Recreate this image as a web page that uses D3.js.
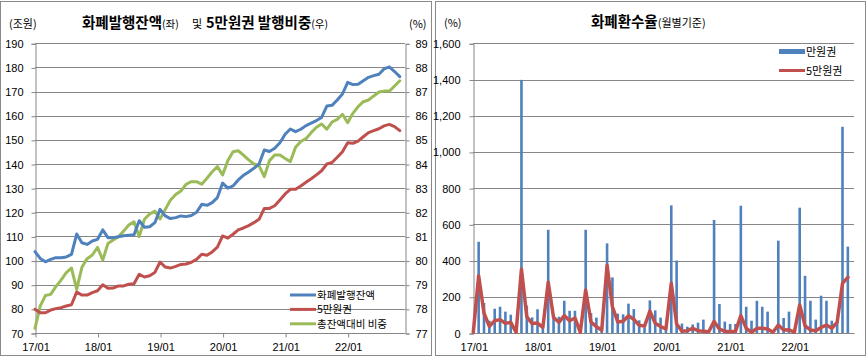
<!DOCTYPE html>
<html><head><meta charset="utf-8">
<script src="https://cdn.jsdelivr.net/npm/d3@7"></script>
<style>
html,body{margin:0;padding:0;background:#fff;}
svg{display:block;font-family:"Noto Sans CJK KR","Noto Sans",sans-serif;}
</style></head>
<body>
<svg id="chart" width="868" height="358"></svg>
<script>
// ---------- DATA ----------
const years = ["17","18","19","20","21","22"];
const months = years.flatMap(y => ["01","02","03","04","05","06","07","08","09","10","11","12"].map(m => y + "/" + m));
const xTickLabels = ["17/01","18/01","19/01","20/01","21/01","22/01"];

// 화폐발행잔액 (조원, left axis)
const issuance = [103.7,100.9,99.5,100.5,101.2,101.2,101.5,102.6,111.0,107.4,106.7,108.1,
  108.8,112.7,109.5,109.5,109.9,110.3,110.5,110.7,116.5,113.8,114.0,115.7,
  121.2,118.5,117.4,117.8,118.5,118.2,118.7,120.0,123.3,122.9,124.0,126.1,
  132.1,130.0,130.9,133.4,135.3,136.7,138.2,140.0,145.8,145.2,146.5,148.8,
  152.3,154.5,153.4,154.4,155.9,156.9,158.0,159.3,164.0,164.3,166.5,169.0,
  173.8,172.9,173.0,174.5,175.9,176.6,177.2,179.4,180.2,178.3,176.2];
// 5만원권 (조원, left axis)
const note50k = [79.8,78.4,78.4,79.5,80.1,80.5,81.2,81.7,87.0,85.7,85.7,86.7,
  87.5,90.0,88.5,88.6,89.5,89.5,90.2,90.4,94.3,93.2,93.7,95.1,
  99.4,97.3,96.9,97.6,98.4,98.6,99.3,100.5,102.6,102.2,103.6,105.6,
  110.2,109.3,110.9,112.7,113.5,114.5,115.7,117.1,121.6,121.6,122.7,125.1,
  127.6,129.5,129.5,130.9,132.4,133.9,135.5,137.2,140.0,140.6,142.8,145.1,
  148.8,148.6,149.5,151.3,153.0,153.8,154.6,155.8,156.4,155.5,153.8];
// 총잔액대비 비중 (%, right axis)
const share = [77.19,78.12,78.55,78.60,78.92,79.19,79.50,79.69,78.81,79.72,80.08,80.23,
  80.55,80.02,80.71,80.85,80.99,81.22,81.47,81.61,80.99,81.71,81.93,82.05,
  81.72,82.12,82.51,82.74,82.88,83.16,83.27,83.27,83.16,83.41,83.68,83.89,
  83.55,84.14,84.51,84.55,84.37,84.17,84.00,83.92,83.48,84.14,84.37,84.37,
  84.23,84.10,84.69,84.93,85.05,85.30,85.52,85.66,85.44,85.74,85.85,86.06,
  85.71,86.10,86.38,86.58,86.65,86.82,86.98,87.02,87.02,87.23,87.45];

// 화폐환수율 (%): 만원권 bars, 5만원권 line
const return10k = [0,504,166,68,134,145,118,101,5,1398,151,86,
  131,40,570,86,90,178,123,123,5,570,110,85,
  25,495,307,107,103,162,132,70,30,180,125,85,
  25,705,400,52,35,47,57,74,15,624,160,63,
  50,50,703,145,68,178,145,118,10,510,83,118,
  15,692,316,178,74,206,178,68,59,1139,477];
const return50k = [4,316,109,37,68,74,53,59,4,353,90,52,
  55,31,280,86,59,96,68,83,4,237,60,35,
  15,374,144,61,65,95,75,43,38,121,54,36,
  22,275,50,10,13,26,13,9,7,64,22,9,
  7,9,96,26,4,26,26,22,4,44,17,18,
  4,155,40,17,13,31,44,26,59,274,307];

const leftTicks = d3.range(70, 191, 10);
const rightTicks = d3.range(77, 90, 1);
const rateTicks = d3.range(0, 1601, 200);

// ---------- STYLE ----------
const BLUE = "#4F81BD", RED = "#C0504D", GREEN = "#9BBB59";
const GRID = "#868686", TXT = "#000";

const svg = d3.select("#chart");

svg.append("rect").attr("x",0.5).attr("y",1.5).attr("width",431).attr("height",354)
  .attr("fill","none").attr("stroke","#8a8a8a");
svg.append("rect").attr("x",435.5).attr("y",1.5).attr("width",430).attr("height",354)
  .attr("fill","none").attr("stroke","#8a8a8a");

// ================= LEFT CHART =================
{
  const x = d3.scalePoint().domain(months).range([35, 405]);
  const y = d3.scaleLinear().domain([70, 190]).range([333, 43.3]);
  const y2 = d3.scaleLinear().domain([77, 89]).range([333, 43.3]);
  const g = svg.append("g");

  g.selectAll("line.grid").data(leftTicks).join("line")
    .attr("x1",35).attr("x2",405).attr("y1",d=>Math.round(y(d))+0.5).attr("y2",d=>Math.round(y(d))+0.5)
    .attr("stroke",GRID).attr("stroke-width",1);

  const la = g.append("g").attr("transform","translate(35.5,0.5)")
    .call(d3.axisLeft(y).tickValues(leftTicks).tickSize(4).tickPadding(8).tickFormat(d3.format("d")));
  la.select(".domain").attr("stroke",GRID);
  la.selectAll(".tick line").attr("stroke",GRID);
  la.selectAll("text").attr("font-size","11px").attr("fill",TXT).attr("font-family","inherit");

  const ra = g.append("g").attr("transform","translate(405.5,0.5)")
    .call(d3.axisRight(y2).tickValues(rightTicks).tickSize(4).tickPadding(6).tickFormat(d3.format("d")));
  ra.select(".domain").attr("stroke",GRID);
  ra.selectAll(".tick line").attr("stroke",GRID);
  ra.selectAll("text").attr("font-size","11px").attr("fill",TXT).attr("font-family","inherit");

  const ba = g.append("g").attr("transform","translate(0.5,333.5)")
    .call(d3.axisBottom(x).tickValues(xTickLabels).tickSize(4).tickPadding(6));
  ba.select(".domain").attr("stroke",GRID).attr("d","M34.5,0H404.5");
  ba.selectAll(".tick line").attr("stroke",GRID);
  ba.selectAll("text").attr("font-size","11px").attr("fill",TXT).attr("font-family","inherit");

  const line = (arr, yy) => d3.line().x((d,i)=>x(months[i])).y(d=>yy(d))(arr);
  g.append("path").attr("d",line(share,y2)).attr("fill","none").attr("stroke",GREEN)
    .attr("stroke-width",3).attr("stroke-linejoin","round").attr("stroke-linecap","round");
  g.append("path").attr("d",line(note50k,y)).attr("fill","none").attr("stroke",RED)
    .attr("stroke-width",3).attr("stroke-linejoin","round").attr("stroke-linecap","round");
  g.append("path").attr("d",line(issuance,y)).attr("fill","none").attr("stroke",BLUE)
    .attr("stroke-width",3).attr("stroke-linejoin","round").attr("stroke-linecap","round");

  // title
  const t = g.append("text").attr("y",28).attr("fill",TXT);
  t.append("tspan").attr("x",82).text("화폐발행잔액").attr("font-size","14.5px").attr("font-weight","bold");
  t.append("tspan").text("(좌)").attr("font-size","10.5px");
  t.append("tspan").attr("x",192).text("및").attr("font-size","11px");
  t.append("tspan").attr("x",206).text("5만원권 발행비중").attr("font-size","14.5px").attr("font-weight","bold");
  t.append("tspan").text("(우)").attr("font-size","10.5px");

  g.append("text").attr("x",9).attr("y",28).text("(조원)").attr("font-size","11px").attr("fill",TXT);
  g.append("text").attr("x",409).attr("y",28).text("(%)").attr("font-size","11px").attr("fill",TXT);

  const leg = [["화폐발행잔액",BLUE],["5만원권",RED],["총잔액대비 비중",GREEN]];
  leg.forEach((d,i)=>{
    const yy = 295 + i*14.4;
    g.append("line").attr("x1",290).attr("x2",316).attr("y1",yy).attr("y2",yy)
      .attr("stroke",d[1]).attr("stroke-width",3);
    g.append("text").attr("x",317).attr("y",yy+4).text(d[0]).attr("font-size","10.5px").attr("fill",TXT);
  });
}

// ================= RIGHT CHART =================
{
  const x = d3.scalePoint().domain(months).range([473.3, 853.2]);
  const y = d3.scaleLinear().domain([0, 1600]).range([333, 43.3]);
  const g = svg.append("g");

  g.selectAll("line.grid").data(rateTicks.filter(d=>d>0)).join("line")
    .attr("x1",473).attr("x2",854).attr("y1",d=>Math.round(y(d))+0.5).attr("y2",d=>Math.round(y(d))+0.5)
    .attr("stroke",GRID).attr("stroke-width",1);

  const la = g.append("g").attr("transform","translate(473.5,0.5)")
    .call(d3.axisLeft(y).tickValues(rateTicks).tickSize(4).tickPadding(9).tickFormat(d3.format(",")));
  la.select(".domain").attr("stroke",GRID);
  la.selectAll(".tick line").attr("stroke",GRID);
  la.selectAll("text").attr("font-size","11px").attr("fill",TXT).attr("font-family","inherit");

  const ba = g.append("g").attr("transform","translate(0.5,333.5)")
    .call(d3.axisBottom(x).tickValues(xTickLabels).tickSize(0).tickPadding(10));
  ba.select(".domain").attr("stroke",GRID).attr("d","M473,0H854");
  ba.selectAll("text").attr("font-size","11px").attr("fill",TXT).attr("font-family","inherit");

  const bw = 2.6;
  g.selectAll("rect.bar").data(return10k).join("rect")
    .attr("x",(d,i)=>x(months[i])-bw/2).attr("width",bw)
    .attr("y",d=>y(d)).attr("height",d=>333-y(d)).attr("fill",BLUE);

  g.append("path").attr("d",d3.line().x((d,i)=>x(months[i])).y(d=>y(d))(return50k))
    .attr("fill","none").attr("stroke",RED).attr("stroke-width",3.5)
    .attr("stroke-linejoin","round").attr("stroke-linecap","round");

  const t = g.append("text").attr("x",591).attr("y",27).attr("fill",TXT);
  t.append("tspan").text("화폐환수율").attr("font-size","14.5px").attr("font-weight","bold");
  t.append("tspan").text("(월별기준)").attr("font-size","11px");

  g.append("text").attr("x",444).attr("y",27).text("(%)").attr("font-size","11px").attr("fill",TXT);

  g.append("rect").attr("x",779).attr("y",49).attr("width",26).attr("height",5).attr("fill",BLUE);
  g.append("text").attr("x",806).attr("y",55.5).text("만원권").attr("font-size","11px").attr("fill",TXT);
  g.append("line").attr("x1",779).attr("x2",805).attr("y1",70.5).attr("y2",70.5)
    .attr("stroke",RED).attr("stroke-width",3);
  g.append("text").attr("x",806).attr("y",74.5).text("5만원권").attr("font-size","11px").attr("fill",TXT);
}
</script>
</body></html>
